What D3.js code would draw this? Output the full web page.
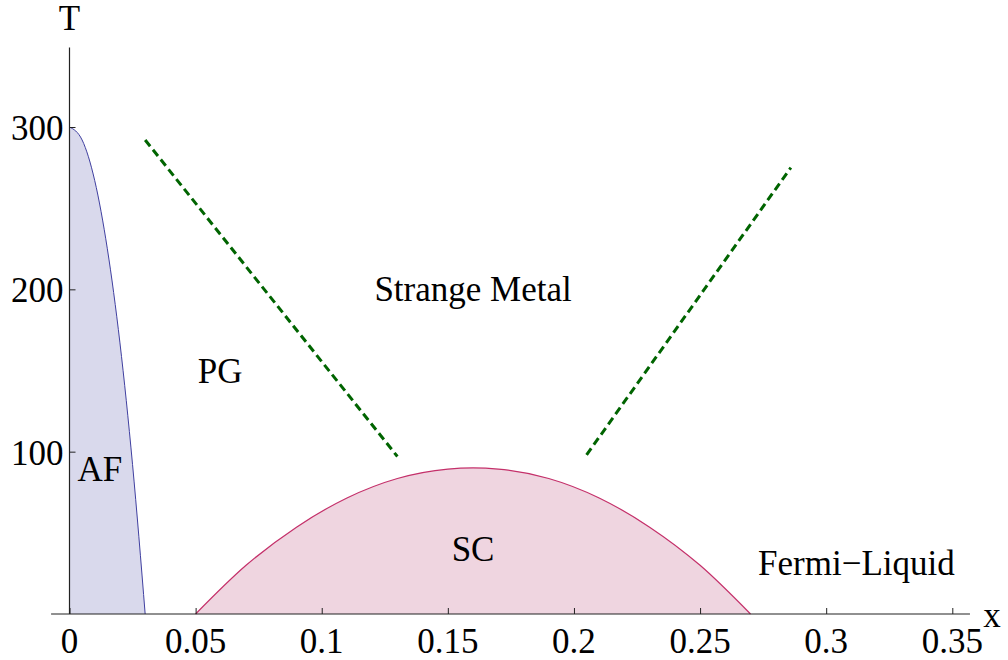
<!DOCTYPE html>
<html>
<head>
<meta charset="utf-8">
<script src="https://cdn.jsdelivr.net/npm/d3@7"></script>
<style>
  body { margin: 0; background: #fff; }
</style>
</head>
<body>
<svg width="1008" height="660"></svg>
<script>
// doping x vs temperature T
var afX = [0, 0.005, 0.01, 0.015, 0.02, 0.025, 0.03];
var afT = [300, 292, 267, 225, 167, 92, 0];

var scX = [0.05, 0.07, 0.09, 0.11, 0.13, 0.15, 0.16, 0.17, 0.19, 0.21, 0.23, 0.25, 0.27];
var scT = [0, 30, 53.5, 71.5, 83.5, 89.3, 90, 89.3, 83.5, 71.5, 53.5, 30, 0];

var pgLine = [[0.03, 292], [0.13, 97]];
var flLine = [[0.205, 98], [0.286, 275]];

var xTicks = [0, 0.05, 0.1, 0.15, 0.2, 0.25, 0.3, 0.35];
var yTicks = [100, 200, 300];

var labels = [
    {text: "AF", x: 0.012, T: 82},
    {text: "PG", x: 0.0597, T: 142},
    {text: "Strange Metal", x: 0.16, T: 193},
    {text: "SC", x: 0.16, T: 32.6},
    {text: "Fermi\u2212Liquid", x: 0.312, T: 24}
];

var font = "'Liberation Serif', LiberationSerif, 'Times New Roman', Times, Tinos, 'DejaVu Serif', 'Noto Serif', serif";

var svg = d3.select("svg");

var x = d3.scaleLinear().domain([0, 0.35]).range([69.5, 952.3]);
var y = d3.scaleLinear().domain([0, 300]).range([614, 127]);

var area = d3.area()
    .x(function(d) { return x(d[0]); })
    .y0(y(0))
    .y1(function(d) { return y(d[1]); })
    .curve(d3.curveMonotoneX);

var line = d3.line()
    .x(function(d) { return x(d[0]); })
    .y(function(d) { return y(d[1]); })
    .curve(d3.curveMonotoneX);

var afData = afX.map(function(v, i) { return [v, afT[i]]; });
var scData = scX.map(function(v, i) { return [v, scT[i]]; });

// filled regions
svg.append("path").datum(afData)
    .attr("d", area)
    .attr("fill", "#d9d9ec");
svg.append("path").datum(afData)
    .attr("d", line)
    .attr("fill", "none")
    .attr("stroke", "#3f3fa0")
    .attr("stroke-width", 1);

svg.append("path").datum(scData)
    .attr("d", area)
    .attr("fill", "#efd5e0");
svg.append("path").datum(scData)
    .attr("d", line)
    .attr("fill", "none")
    .attr("stroke", "#c4306a")
    .attr("stroke-width", 1.2);

// crossover lines
svg.selectAll(".cross")
    .data([pgLine, flLine])
    .enter()
    .append("path")
    .attr("class", "cross")
    .attr("d", d3.line().x(function(d) { return x(d[0]); }).y(function(d) { return y(d[1]); }))
    .attr("fill", "none")
    .attr("stroke", "#006400")
    .attr("stroke-width", 3)
    .attr("stroke-dasharray", "8,4.5");

// axes
var xAxis = d3.axisTop(x).tickValues(xTicks).tickSize(6).tickFormat("");
var yAxis = d3.axisRight(y).tickValues(yTicks).tickSize(6).tickFormat("");

var gx = svg.append("g").attr("transform", "translate(0," + y(0) + ")").call(xAxis);
gx.select(".domain").remove();
gx.selectAll("line").attr("stroke", "#222");
gx.append("line")
    .attr("x1", x(-0.0073)).attr("x2", x(0.357))
    .attr("stroke", "#222").attr("stroke-width", 1.2);

var gy = svg.append("g").attr("transform", "translate(" + x(0) + ",0)").call(yAxis);
gy.select(".domain").remove();
gy.selectAll("line").attr("stroke", "#222");
gy.append("line")
    .attr("y1", y(0)).attr("y2", y(349))
    .attr("stroke", "#222").attr("stroke-width", 1.2);

// tick labels
svg.selectAll(".xlab")
    .data(xTicks)
    .enter()
    .append("text")
    .attr("class", "xlab")
    .attr("x", function(d) { return x(d); })
    .attr("y", y(0) + 39)
    .attr("text-anchor", "middle")
    .style("font-family", font)
    .attr("font-size", 35)
    .text(function(d) { return d; });

svg.selectAll(".ylab")
    .data(yTicks)
    .enter()
    .append("text")
    .attr("class", "ylab")
    .attr("x", x(0) - 6)
    .attr("y", function(d) { return y(d) + 13; })
    .attr("text-anchor", "end")
    .style("font-family", font)
    .attr("font-size", 35)
    .text(function(d) { return d; });

// axis names
svg.append("text")
    .attr("x", x(0)).attr("y", 30)
    .attr("text-anchor", "middle")
    .style("font-family", font)
    .attr("font-size", 35)
    .text("T");
svg.append("text")
    .attr("x", 992).attr("y", 627)
    .attr("text-anchor", "middle")
    .style("font-family", font)
    .attr("font-size", 35)
    .text("x");

// region labels
svg.selectAll(".region")
    .data(labels)
    .enter()
    .append("text")
    .attr("class", "region")
    .attr("x", function(d) { return x(d.x); })
    .attr("y", function(d) { return y(d.T); })
    .attr("text-anchor", "middle")
    .style("font-family", font)
    .attr("font-size", 35)
    .text(function(d) { return d.text; });
</script>
</body>
</html>
